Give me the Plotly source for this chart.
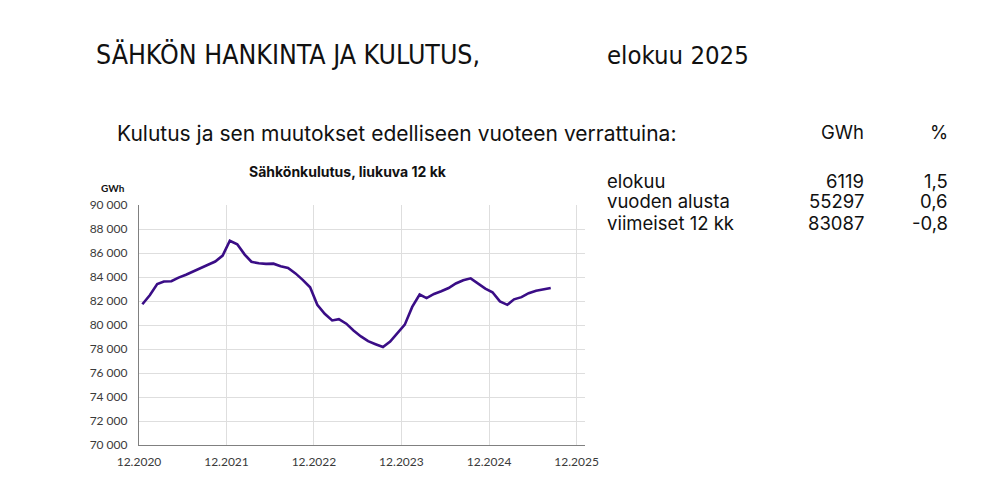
import pandas as pd
import plotly.graph_objects as go

# ---- data ----
start_month = "2020-12-01"
consumption_gwh = [
    81730, 82480, 83410, 83620, 83650, 83950, 84190, 84480, 84730, 85020,
    85290, 85780, 87020, 86730, 85870, 85270, 85140, 85090, 85110, 84890,
    84750, 84300, 83760, 83140, 81680, 80930, 80380, 80490, 80110, 79540,
    79050, 78650, 78400, 78160, 78620, 79300, 80030, 81510, 82540, 82240,
    82590, 82810, 83080, 83460, 83730, 83890, 83490, 83030, 82730, 81970,
    81680, 82140, 82320, 82650, 82860, 83000, 83087,
]
tick_dates = ["2020-12-01", "2021-12-01", "2022-12-01", "2023-12-01", "2024-12-01", "2025-12-01"]
tick_labels = ["12.2020", "12.2021", "12.2022", "12.2023", "12.2024", "12.2025"]
y_ticks = [70000, 72000, 74000, 76000, 78000, 80000, 82000, 84000, 86000, 88000, 90000]

table_rows = ["elokuu", "vuoden alusta", "viimeiset 12 kk"]
table_gwh = ["6119", "55297", "83087"]
table_pct = ["1,5", "0,6", "-0,8"]

# ---- geometry (page pixels; body has an 8px margin) ----
OFF = 8
W, H = 1000 - 2 * OFF, 489 - 2 * OFF
PL, PR, PT, PB = 138.5, 585, 205, 452.5  # plot area in page px
ml, mr, mt, mb = PL - OFF, W - (PR - OFF), PT - OFF, H - (PB - OFF)
pw, ph = W - ml - mr, H - mt - mb


def px(x):
    return (x - OFF - ml) / pw


def py(y):
    return (H - mb - (y - OFF)) / ph


dates = pd.date_range(start_month, periods=len(consumption_gwh), freq="MS") + pd.Timedelta(days=14)

fig = go.Figure()
fig.add_trace(go.Scatter(
    x=dates, y=consumption_gwh, mode="lines",
    line=dict(color="#3a0d86", width=2.6),
    hoverinfo="skip", showlegend=False,
))

tick_font = dict(family="Lato, Liberation Sans, sans-serif", size=12, color="#3a3a3a")
fig.update_layout(
    width=W, height=H,
    margin=dict(l=ml, r=mr, t=mt, b=mb, pad=0),
    paper_bgcolor="white", plot_bgcolor="white",
    separators=", ",
    xaxis=dict(
        range=["2020-12-01", "2026-01-05"],
        tickvals=tick_dates, ticktext=tick_labels,
        showgrid=True, gridcolor="#dedede", gridwidth=1,
        showline=True, linecolor="#808080", linewidth=1.2,
        ticks="", tickfont=tick_font, ticklabelstandoff=5,
        zeroline=False,
    ),
    yaxis=dict(
        range=[70000, 90000],
        tickvals=y_ticks, tickformat=",d",
        showgrid=True, gridcolor="#dedede", gridwidth=1,
        showline=True, linecolor="#808080", linewidth=1.2,
        ticks="", tickfont=tick_font, ticklabelstandoff=8,
        zeroline=False,
    ),
)

anns = []


def add_text(text, x, y, size, family, xanchor="left", color="#111111", bold=False):
    t = f"<b>{text}</b>" if bold else text
    anns.append(dict(
        text=t, x=px(x), y=py(y), xref="paper", yref="paper",
        xanchor=xanchor, yanchor="middle", showarrow=False,
        font=dict(size=size, family=family, color=color),
    ))


narrow = "Liberation Sans Narrow, DejaVu Sans Condensed, sans-serif"
body = "Inter, Open Sans, sans-serif"

add_text("SÄHKÖN HANKINTA JA KULUTUS,", 93, 50, 26.5, narrow)
add_text("elokuu 2025", 605, 50, 25.5, narrow)
add_text("Kulutus ja sen muutokset edelliseen vuoteen verrattuina:", 114, 131, 21, body)
add_text("GWh", 866, 130, 18.5, body, xanchor="right")
add_text("%", 950, 130, 18.5, body, xanchor="right")
for i, (lab, g, p) in enumerate(zip(table_rows, table_gwh, table_pct)):
    yy = [180, 201, 224][i]
    add_text(lab, 605, yy, 18.5, body)
    add_text(g, 866, yy, 18.5, body, xanchor="right")
    add_text(p, 950, yy, 18.5, body, xanchor="right")

add_text("Sähkönkulutus, liukuva 12 kk", 348, 170, 14, "Inter, Liberation Sans, sans-serif", xanchor="center", bold=True)
add_text("GWh", 98, 187, 10, "Lato, Liberation Sans, sans-serif", bold=True)

fig.update_layout(annotations=anns)
fig.write_html("out.html")
